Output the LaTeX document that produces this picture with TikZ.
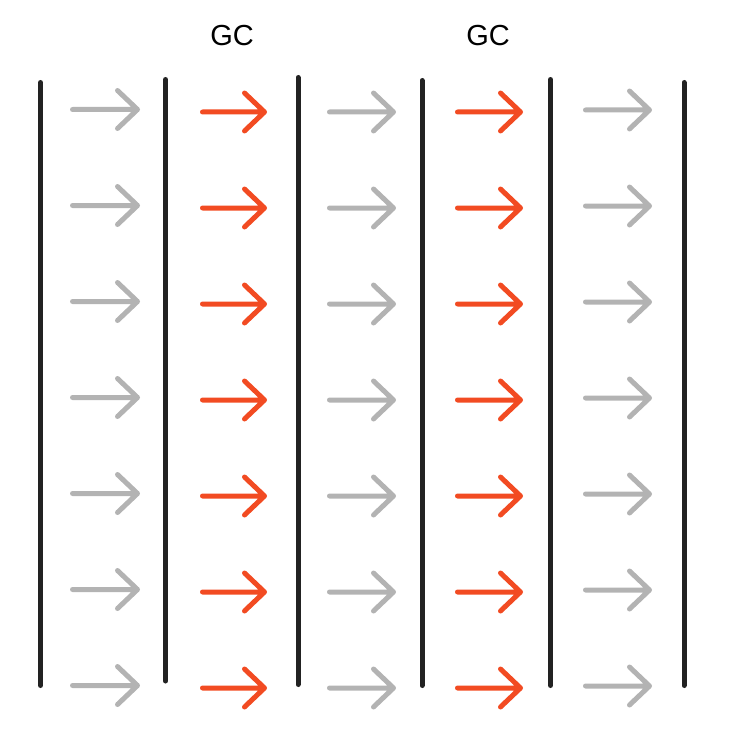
\documentclass[tikz,border=0pt]{standalone}
\usepackage{fontspec}
\setmainfont{Liberation Sans}
\usepackage{tikz}
\usetikzlibrary{positioning}
\definecolor{wallblack}{HTML}{222222}
\definecolor{flowgray}{HTML}{B3B3B3}
\definecolor{flowred}{HTML}{F24B22}
\tikzset{
  wall/.style={line width=5pt,wallblack,line cap=round},
  flow/.style={line width=5pt,line cap=round,line join=round},
  gclabel/.style={inner sep=0pt,font=\fontsize{29}{29}\selectfont}
}
% shaft plus open chevron head
\newcommand{\flowarrow}[4]{%
  \draw[flow,draw=#1] (#2,#4) -- (#3,#4) (#3-20,#4-19) -- (#3,#4) -- (#3-20,#4+19);}

\begin{document}
\begin{tikzpicture}[x=1pt,y=-1pt]
\useasboundingbox (0,0) rectangle (729,741);
% GC labels
\node[gclabel] (gc1) at (232,35.5) {GC};
\node[gclabel] (gc2) at (488,35.5) {GC};
% walls
\foreach \xx/\ytop/\ybot in {40.5/82.5/685.5,165.5/79.5/681,298/77.5/684.5,
  422/80.5/685.5,550.5/79.5/685.5,684/82.5/685.5}
  {\draw[wall] (\xx,\ytop) -- (\xx,\ybot);}
% flow arrows, seven rows per column
\foreach \xs/\xt/\yo/\col in {72.5/137.5/109.5/flowgray,202.5/264.5/112/flowred,
  329.5/393.5/112/flowgray,457.5/520.5/112/flowred,585.5/649.5/110/flowgray}
  {\foreach \rr in {0,...,6}
    {\pgfmathsetmacro{\yy}{\yo+96*\rr}
     \flowarrow{\col}{\xs}{\xt}{\yy}}}
\end{tikzpicture}
\end{document}
